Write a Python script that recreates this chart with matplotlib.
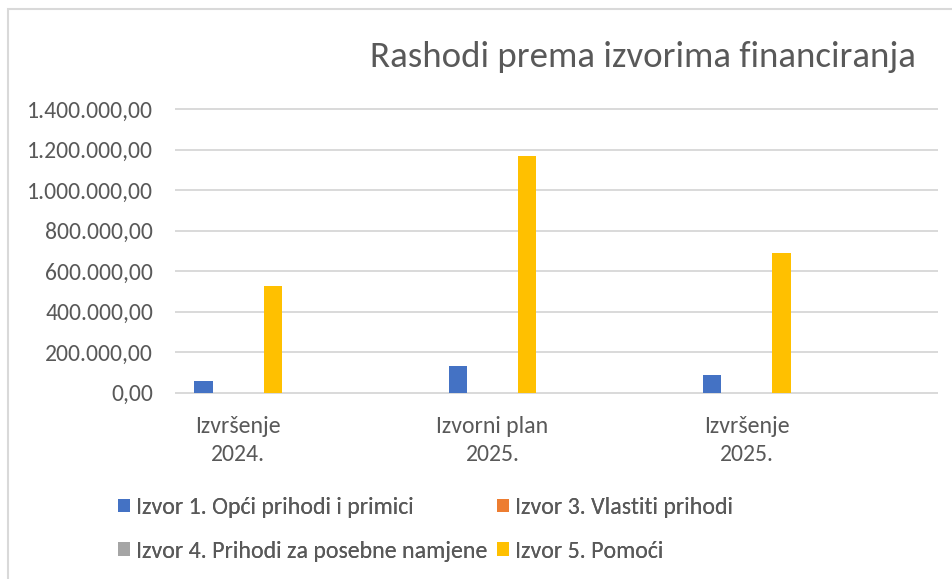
import matplotlib
matplotlib.use('Agg')
import matplotlib.pyplot as plt
from matplotlib import font_manager
from matplotlib.ticker import FuncFormatter
from matplotlib.patches import Rectangle
import numpy as np


def pick_font():
    for f in ['Carlito', 'Calibri', 'Lato']:
        try:
            font_manager.findfont(f, fallback_to_default=False)
            return f
        except Exception:
            pass
    return 'DejaVu Sans'


FONT = pick_font()
plt.rcParams['font.family'] = [FONT, 'DejaVu Sans']

# ---------------- data ----------------
categories = ["Izvršenje\n2024.", "Izvorni plan\n2025.", "Izvršenje\n2025."]
series_names = [
    "Izvor 1. Opći prihodi i primici",
    "Izvor 3. Vlastiti prihodi",
    "Izvor 4. Prihodi za posebne namjene",
    "Izvor 5. Pomoći",
]
izvor1 = [56000, 132000, 87000]
izvor3 = [0, 0, 0]
izvor4 = [0, 0, 0]
izvor5 = [525000, 1167000, 689000]
series_values = [izvor1, izvor3, izvor4, izvor5]
series_colors = ['#4472C4', '#ED7D31', '#A5A5A5', '#FFC000']
yticks = [0, 200000, 400000, 600000, 800000, 1000000, 1200000, 1400000]
title = "Rashodi prema izvorima financiranja"

TXT = '#595959'
W, H = 952, 579
fig = plt.figure(figsize=(W / 100, H / 100), dpi=100)
renderer = fig.canvas.get_renderer()


def text_w(s, fs):
    t = fig.text(0, 0, s, fontsize=fs)
    w = t.get_window_extent(renderer).width
    t.remove()
    return w


def px_size(s, target):
    return 20 * target / text_w(s, 20)


title_fs = px_size(title, 546)
tick_fs = px_size("1.400.000,00", 126)
cat_fs = px_size("Izvorni plan", 112)
leg_fs = px_size(series_names[0], 278)

ax = fig.add_axes([176 / W, 1 - 392.7 / H, (937 - 176) / W, (392.7 - 109) / H])
x = np.arange(len(categories))
n = len(series_values)
step = 0.0913
width = 0.072
bars = []
for i, (vals, name, col) in enumerate(zip(series_values, series_names, series_colors)):
    b = ax.bar(x + (i - (n - 1) / 2) * step, vals, width, color=col, label=name, zorder=3)
    bars.append(b)

ax.set_xlim(-0.2446, 2.748)
ax.set_ylim(0, 1400000)
ax.set_yticks(yticks)


def fmt(v, pos):
    s = f"{v:,.2f}"
    return s.replace(',', 'X').replace('.', ',').replace('X', '.')


ax.yaxis.set_major_formatter(FuncFormatter(fmt))
ax.grid(axis='y', color='#D9D9D9', lw=1.4, zorder=0)
for gl in ax.get_ygridlines():
    gl.set_clip_on(False)
for s in ax.spines.values():
    s.set_visible(False)
ax.set_xticks(x, categories)
ax.tick_params(axis='both', length=0, colors=TXT)
ax.tick_params(axis='y', labelsize=tick_fs, pad=23 * 0.72)
ax.tick_params(axis='x', labelsize=cat_fs, pad=23 * 0.72)
for lbl in ax.get_xticklabels():
    lbl.set_linespacing(1.45)

fig.text(643 / W, 1 - 67 / H, title, ha='center', va='baseline', color=TXT, fontsize=title_fs)

# ---------------- legend (two rows, aligned columns) ----------------
leg_px = leg_fs * 100 / 72
mk = 12
gap = 6
x_left = 118
x_col2 = 497
w_col1 = max(text_w(series_names[0], leg_fs), text_w(series_names[2], leg_fs))
colsp = (x_col2 - (x_left + mk + gap + w_col1)) / leg_px
rows = [((0, 1), 507.5), ((2, 3), 551)]
for (a, b), yc in rows:
    wa = text_w(series_names[a], leg_fs)
    cs = (x_col2 - (x_left + mk + gap + wa)) / leg_px
    lg = fig.legend(handles=[bars[a], bars[b]], labels=[series_names[a], series_names[b]],
                    ncol=2, loc='center left', bbox_to_anchor=(x_left / W, 1 - yc / H),
                    frameon=False, fontsize=leg_fs, handlelength=mk / leg_px,
                    handleheight=mk / leg_px, handletextpad=gap / leg_px,
                    columnspacing=cs, borderpad=0, borderaxespad=0, labelcolor=TXT)
    fig.add_artist(lg)

# chart-area border
fig.add_artist(Rectangle((8 / W, -0.05), 1.2, 1 - 9 / H + 0.05, transform=fig.transFigure,
                         fill=False, ec='#D9D9D9', lw=1.5))

fig.savefig('out.png', dpi=100)
